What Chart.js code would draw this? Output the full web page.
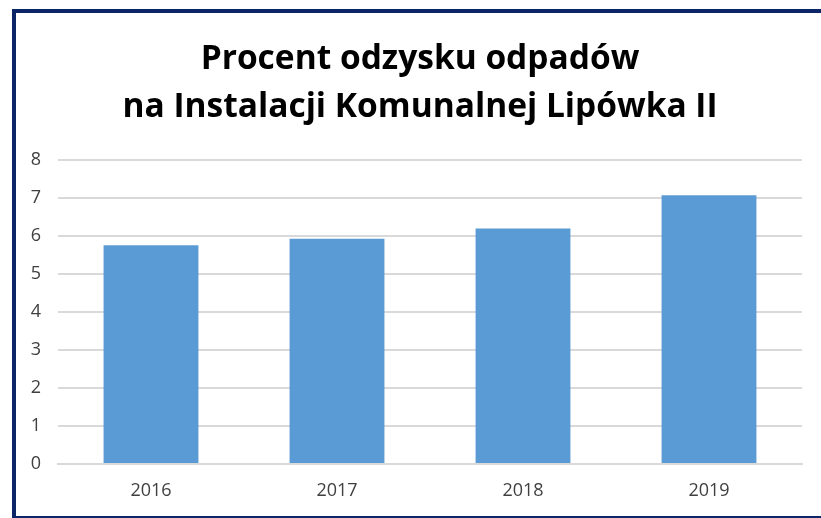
<!DOCTYPE html>
<html>
<head>
<meta charset="utf-8">
<script src="https://cdn.jsdelivr.net/npm/chart.js@4.4.1/dist/chart.umd.min.js"></script>
<style>
    html, body { margin: 0; padding: 0; background: #fff; }
    #wrap { position: relative; width: 821px; height: 518px; overflow: hidden; }
    #frame {
        position: absolute; left: 12px; top: 9px; width: 830px; height: 503px;
        border: 4px solid #0b2566; pointer-events: none;
    }
</style>
</head>
<body>
<div id="wrap">
    <canvas id="barChart" width="821" height="518"></canvas>
    <div id="frame"></div>
</div>
<script>
    // chart data
    const years = ['2016', '2017', '2018', '2019'];
    const recoveryPercent = [5.76, 5.93, 6.2, 7.07];
    const titleLines = ['Procent odzysku odpadów', 'na Instalacji Komunalnej Lipówka II'];
    const yTicks = [0, 1, 2, 3, 4, 5, 6, 7, 8];

    const ctx = document.getElementById('barChart').getContext('2d');

    const chart = new Chart(ctx, {
        type: 'bar',
        data: {
            labels: years,
            datasets: [{
                label: 'Procent odzysku',
                data: recoveryPercent,
                backgroundColor: '#5b9bd5',
                borderWidth: 0,
                categoryPercentage: 1,
                barPercentage: 0.51
            }]
        },
        options: {
            responsive: false,
            animation: false,
            layout: {
                padding: { left: 20, right: 19, top: 0, bottom: 0 }
            },
            plugins: {
                legend: { display: false },
                tooltip: { enabled: false },
                title: {
                    display: true,
                    text: titleLines,
                    color: '#000',
                    font: { family: 'Open Sans', size: 33.5, weight: 'bold', lineHeight: 1.433 },
                    padding: { top: 35, bottom: 29 }
                }
            },
            scales: {
                x: {
                    grid: { display: false, drawTicks: false },
                    border: { display: true, color: '#d9d9d9', width: 2 },
                    ticks: {
                        color: '#404040',
                        font: { family: 'Open Sans', size: 18 },
                        padding: 16
                    },
                    afterFit(scale) { scale.height = 54; }
                },
                y: {
                    min: 0,
                    max: 8,
                    afterBuildTicks(scale) {
                        scale.ticks = yTicks.map(v => ({ value: v }));
                    },
                    grid: { color: '#d9d9d9', lineWidth: 2, drawTicks: false },
                    border: { display: false },
                    ticks: {
                        color: '#404040',
                        font: { family: 'Open Sans', size: 18 },
                        padding: 17
                    },
                    afterFit(scale) { scale.width = 38; }
                }
            }
        },
        plugins: [{
            // nudge the title a bit to the right, as in the original
            id: 'title_shift',
            afterLayout(c) {
                if (c.titleBlock) c.titleBlock.left += 18;
            }
        }]
    });
</script>
</body>
</html>
